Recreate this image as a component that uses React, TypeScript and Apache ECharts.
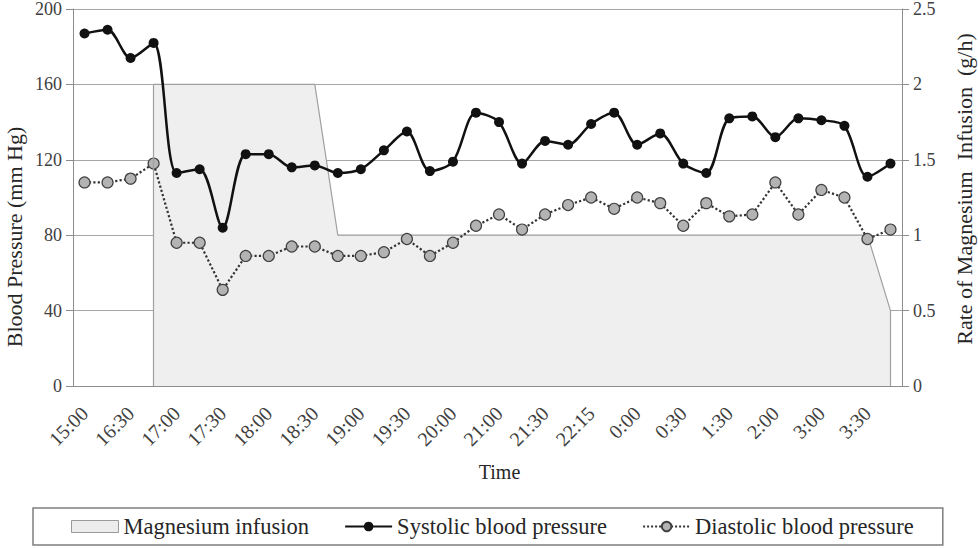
import React, { useEffect, useRef } from "react";
import * as echarts from "echarts";

// Tick labels shown under every other category (one reading every ~half step)
const tickLabels = [
  "15:00", "16:30", "17:00", "17:30", "18:00", "18:30", "19:00", "19:30", "20:00",
  "21:00", "21:30", "22:15", "0:00", "0:30", "1:30", "2:00", "3:00", "3:30",
];
// 36 measurement categories; unlabeled readings between the labeled times
const categories: string[] = tickLabels.flatMap((t) => [t, ""]);

const systolic = [
  187, 189, 174, 182, 113, 115, 84, 123, 123, 116, 117, 113, 115, 125, 135, 114, 119, 145,
  140, 118, 130, 128, 139, 145, 128, 134, 118, 113, 142, 143, 132, 142, 141, 138, 111, 118,
];
const diastolic = [
  108, 108, 110, 118, 76, 76, 51, 69, 69, 74, 74, 69, 69, 71, 78, 69, 76, 85,
  91, 83, 91, 96, 100, 94, 100, 97, 85, 97, 90, 91, 108, 91, 104, 100, 78, 83,
];
const infusionRate: (number | null)[] = [
  null, null, null, 2, 2, 2, 2, 2, 2, 2, 2, 1, 1, 1, 1, 1, 1, 1,
  1, 1, 1, 1, 1, 1, 1, 1, 1, 1, 1, 1, 1, 1, 1, 1, 1, 0.5,
];

const FONT = "'Liberation Serif', 'Times New Roman', serif";

export default function App() {
  const ref = useRef<HTMLDivElement>(null);

  useEffect(() => {
    if (!ref.current) return;
    const chart = echarts.init(ref.current, undefined, { renderer: "svg" });

    const firstIdx = infusionRate.findIndex((v) => v !== null);
    let lastIdx = infusionRate.length - 1;
    while (lastIdx > 0 && infusionRate[lastIdx] === null) lastIdx--;

    const axisGray = "#8c8c8c";
    const labelColor = "#404040";

    chart.setOption({
      animation: false,
      textStyle: { fontFamily: FONT },
      grid: { left: 73, right: 76, top: 8, bottom: 162 },
      legend: {
        left: 33,
        top: 508,
        padding: [7, 29, 7, 38],
        borderColor: "#7f7f7f",
        borderWidth: 1.5,
        itemWidth: 47,
        itemHeight: 12,
        itemGap: 35,
        textStyle: { fontSize: 22.5, color: "#262626", fontFamily: FONT },
        data: [
          {
            name: "Magnesium infusion",
            icon: "rect",
            itemStyle: { color: "#ececec", borderColor: "#999999", borderWidth: 1 },
          },
          { name: "Systolic blood pressure" },
          { name: "Diastolic blood pressure" },
        ],
      },
      xAxis: {
        type: "category",
        data: categories,
        boundaryGap: true,
        axisLine: { lineStyle: { color: axisGray, width: 1 } },
        axisTick: { interval: 1, length: 7, lineStyle: { color: axisGray } },
        axisLabel: {
          interval: 1,
          rotate: 45,
          fontSize: 20,
          color: labelColor,
          margin: 24,
          fontFamily: FONT,
        },
        name: "Time",
        nameLocation: "middle",
        nameGap: 76,
        nameTextStyle: {
          fontSize: 20,
          color: "#262626",
          fontFamily: FONT,
          padding: [0, 0, 0, 24],
        },
      },
      yAxis: [
        {
          type: "value",
          min: 0,
          max: 200,
          interval: 40,
          axisLine: { show: true, lineStyle: { color: axisGray, width: 1 } },
          axisTick: { show: true, length: 7, lineStyle: { color: axisGray } },
          axisLabel: { fontSize: 18, color: labelColor, margin: 11, fontFamily: FONT },
          splitLine: { show: true, lineStyle: { color: "#a6a6a6", width: 1 } },
        },
        {
          type: "value",
          min: 0,
          max: 2.5,
          interval: 0.5,
          position: "right",
          axisLine: { show: true, lineStyle: { color: axisGray, width: 1 } },
          axisTick: { show: true, length: 7, lineStyle: { color: axisGray } },
          axisLabel: { fontSize: 18, color: labelColor, margin: 11, fontFamily: FONT },
          splitLine: { show: false },
        },
      ],
      graphic: [
        {
          type: "text",
          x: 14,
          y: 237,
          rotation: Math.PI / 2,
          style: {
            text: "Blood Pressure (mm Hg)",
            fontSize: 22,
            fontFamily: FONT,
            fill: "#262626",
            align: "center",
            verticalAlign: "middle",
          },
        },
        {
          type: "text",
          x: 964,
          y: 189,
          rotation: Math.PI / 2,
          style: {
            text: "Rate of Magnesium  Infusion  (g/h)",
            fontSize: 22,
            fontFamily: FONT,
            fill: "#262626",
            align: "center",
            verticalAlign: "middle",
          },
        },
      ],
      series: [
        {
          name: "Magnesium infusion",
          type: "line",
          yAxisIndex: 1,
          data: infusionRate,
          symbol: "none",
          z: 1,
          lineStyle: { color: "#a0a0a0", width: 1.2 },
          itemStyle: { color: "#ececec" },
          areaStyle: { color: "#efefef", opacity: 1 },
          emphasis: { disabled: true },
          markLine: {
            silent: true,
            symbol: ["none", "none"],
            label: { show: false },
            lineStyle: { color: "#a0a0a0", width: 1.2, type: "solid" },
            emphasis: { disabled: true },
            data: [
              [{ coord: [firstIdx, 0] }, { coord: [firstIdx, infusionRate[firstIdx]] }],
              [{ coord: [lastIdx, 0] }, { coord: [lastIdx, infusionRate[lastIdx]] }],
            ],
          },
        },
        {
          name: "Diastolic blood pressure",
          type: "line",
          yAxisIndex: 0,
          data: diastolic,
          symbol: "circle",
          symbolSize: 11,
          z: 2,
          lineStyle: { color: "#333333", width: 2.2, type: "dotted" },
          itemStyle: { color: "#b3b3b3", borderColor: "#404040", borderWidth: 1.2 },
          emphasis: { disabled: true },
        },
        {
          name: "Systolic blood pressure",
          type: "line",
          yAxisIndex: 0,
          data: systolic,
          smooth: 0.3,
          symbol: "circle",
          symbolSize: 10,
          z: 3,
          lineStyle: { color: "#111111", width: 2.5 },
          itemStyle: { color: "#111111" },
          emphasis: { disabled: true },
        },
      ],
    });

    return () => {
      chart.dispose();
    };
  }, []);

  return (
    <div
      ref={ref}
      style={{ position: "fixed", left: 0, top: 0, width: 978, height: 548, background: "#ffffff" }}
    />
  );
}
